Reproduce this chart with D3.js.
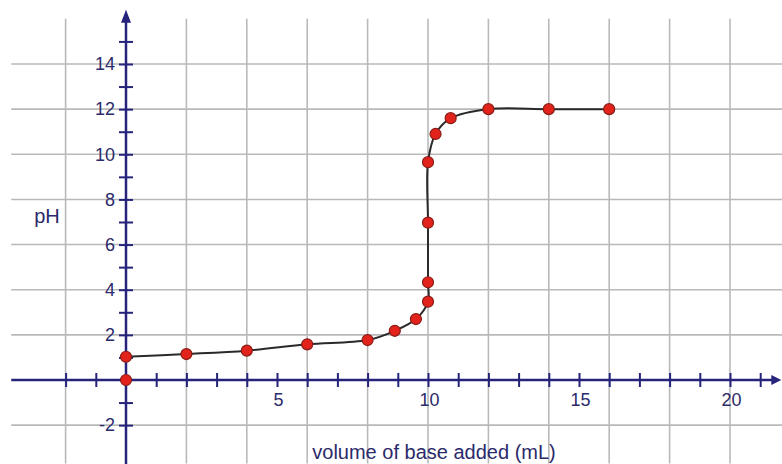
<!DOCTYPE html>
<html>
<head>
<meta charset="utf-8">
<script src="https://cdn.jsdelivr.net/npm/d3@7"></script>
<style>
  html, body { margin: 0; padding: 0; background: #fff; }
  svg { display: block; }
  text { font-family: "Liberation Sans", Arial, sans-serif; fill: #2b2a6a; }
</style>
</head>
<body>
<svg id="chart" width="782" height="464"></svg>
<script>
// Titration curve: pH against volume of base added
const volume = [0, 2, 4, 6, 8, 8.9, 9.6, 10, 10, 10, 10, 10.25, 10.75, 12, 14, 16];
const pH     = [1.03, 1.15, 1.3, 1.58, 1.77, 2.18, 2.7, 3.47, 4.33, 6.97, 9.65, 10.9, 11.6, 12, 12, 12];
// lone point at the origin, not joined to the curve
const originVolume = [0];
const originPH = [0];

const xTickValues = [-2, -1, 1, 2, 3, 4, 5, 6, 7, 8, 9, 10, 11, 12, 13, 14, 15, 16, 17, 18, 19, 20, 21];
const xTickLabels = [5, 10, 15, 20];
const yTickValues = [-2, -1, 1, 2, 3, 4, 5, 6, 7, 8, 9, 10, 11, 12, 13, 14, 15];
const yTickLabels = [-2, 2, 4, 6, 8, 10, 12, 14];
const xGrid = [-2, 2, 4, 6, 8, 10, 12, 14, 16, 18, 20];
const yGrid = [-2, 2, 4, 6, 8, 10, 12, 14];

const svg = d3.select("#chart");
const x = d3.scaleLinear().domain([0, 20]).range([126, 730]);
const y = d3.scaleLinear().domain([0, 14]).range([380, 64]);

const axisColor = "#25237a";
const gridColor = "#b9b9b9";
const xMin = -3.8, xMax = 21.7;   // horizontal extent of the grid/axis
const yTop = 16.0, yBottom = -3.7; // vertical extent of the grid
const yArrowTip = 16.4;

// grid
const grid = svg.append("g");
grid.selectAll("line.v").data(xGrid).join("line")
  .attr("x1", d => x(d)).attr("x2", d => x(d))
  .attr("y1", y(yTop)).attr("y2", y(yBottom))
  .attr("stroke", gridColor).attr("stroke-width", 1.6);
grid.selectAll("line.h").data(yGrid).join("line")
  .attr("y1", d => y(d)).attr("y2", d => y(d))
  .attr("x1", x(xMin)).attr("x2", x(xMax) + 5)
  .attr("stroke", gridColor).attr("stroke-width", 1.6);

// x axis, ticks crossing the line
const xAxis = d3.axisBottom(x).tickValues(xTickValues).tickSize(7).tickFormat("");
const gx = svg.append("g").attr("transform", `translate(0,${y(0)})`).call(xAxis);
gx.select(".domain").remove();
gx.selectAll(".tick line").attr("y1", -7).attr("y2", 7)
  .attr("stroke", axisColor).attr("stroke-width", 2);
svg.append("line")
  .attr("x1", x(xMin)).attr("x2", x(xMax) - 8)
  .attr("y1", y(0)).attr("y2", y(0))
  .attr("stroke", axisColor).attr("stroke-width", 2.5);
svg.append("path")
  .attr("d", `M${x(xMax)},${y(0)} L${x(xMax) - 10},${y(0) - 5} L${x(xMax) - 10},${y(0) + 5} Z`)
  .attr("fill", axisColor);

// y axis
const yAxis = d3.axisLeft(y).tickValues(yTickValues).tickSize(7).tickFormat("");
const gy = svg.append("g").attr("transform", `translate(${x(0)},0)`).call(yAxis);
gy.select(".domain").remove();
gy.selectAll(".tick line").attr("x1", -7).attr("x2", 7)
  .attr("stroke", axisColor).attr("stroke-width", 2);
svg.append("line")
  .attr("x1", x(0)).attr("x2", x(0))
  .attr("y1", 464).attr("y2", y(yArrowTip) + 8)
  .attr("stroke", axisColor).attr("stroke-width", 2.5);
svg.append("path")
  .attr("d", `M${x(0)},${y(yArrowTip)} L${x(0) - 5},${y(yArrowTip) + 13} L${x(0) + 5},${y(yArrowTip) + 13} Z`)
  .attr("fill", axisColor);

// tick labels
svg.append("g").selectAll("text").data(xTickLabels).join("text")
  .attr("x", d => x(d) + 1.5).attr("y", y(0) + 26)
  .attr("text-anchor", "middle").attr("font-size", 18)
  .text(d => d);
svg.append("g").selectAll("text").data(yTickLabels).join("text")
  .attr("x", x(0) - 11).attr("y", d => y(d))
  .attr("dy", "0.35em")
  .attr("text-anchor", "end").attr("font-size", 18)
  .text(d => d);

// axis titles
svg.append("text").attr("x", 47).attr("y", y(7.25)).attr("dy", "0.35em")
  .attr("text-anchor", "middle").attr("font-size", 20).text("pH");
svg.append("text").attr("x", 434).attr("y", 459)
  .attr("text-anchor", "middle").attr("font-size", 20).text("volume of base added (mL)");

// curve
const pts = volume.map((v, i) => [v, pH[i]]);
const line = d3.line().x(d => x(d[0])).y(d => y(d[1])).curve(d3.curveCatmullRom.alpha(0.5));
svg.append("path").attr("d", line(pts))
  .attr("fill", "none").attr("stroke", "#2a2a2a").attr("stroke-width", 2);

// points
const allPts = pts.concat(originVolume.map((v, i) => [v, originPH[i]]));
svg.append("g").selectAll("circle").data(allPts).join("circle")
  .attr("cx", d => x(d[0])).attr("cy", d => y(d[1])).attr("r", 5.5)
  .attr("fill", "#e1231c").attr("stroke", "#8a1c16").attr("stroke-width", 1.2);
</script>
</body>
</html>
